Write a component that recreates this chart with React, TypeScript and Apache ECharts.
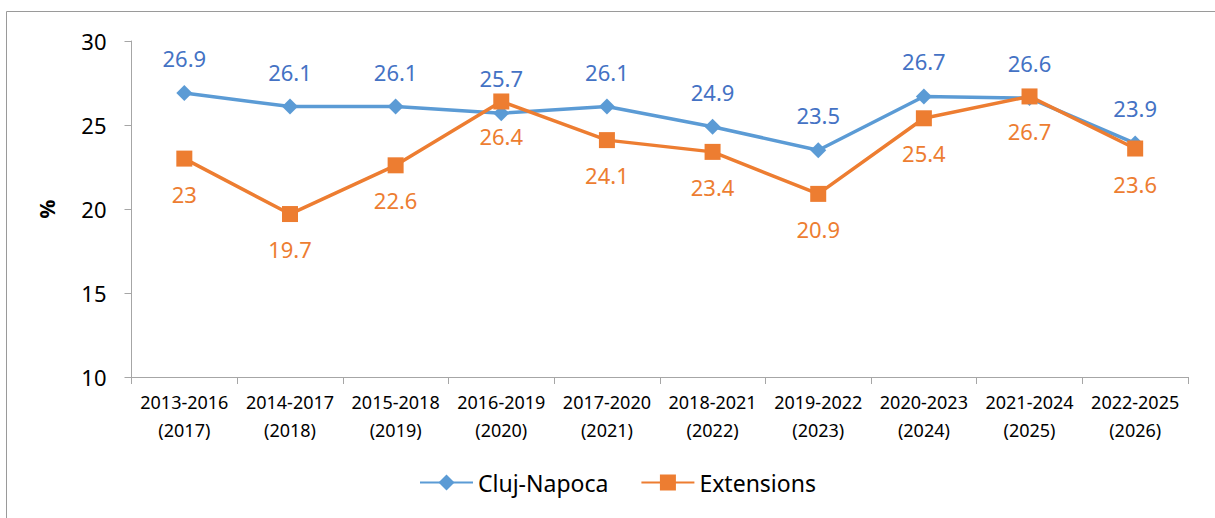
import React, { useEffect, useRef } from "react";
import * as echarts from "echarts";

const categories = [
  "2013-2016\n(2017)",
  "2014-2017\n(2018)",
  "2015-2018\n(2019)",
  "2016-2019\n(2020)",
  "2017-2020\n(2021)",
  "2018-2021\n(2022)",
  "2019-2022\n(2023)",
  "2020-2023\n(2024)",
  "2021-2024\n(2025)",
  "2022-2025\n(2026)",
];
const clujNapoca = [26.9, 26.1, 26.1, 25.7, 26.1, 24.9, 23.5, 26.7, 26.6, 23.9];
const extensions = [23, 19.7, 22.6, 26.4, 24.1, 23.4, 20.9, 25.4, 26.7, 23.6];
const yTicks = [10, 15, 20, 25, 30];

const FONT = "'Noto Sans', 'Open Sans', sans-serif";
const AXIS = "#a6a6a6";

export default function App() {
  const ref = useRef<HTMLDivElement>(null);
  useEffect(() => {
    document.body.style.margin = "0";
    if (!ref.current) return;
    const chart = echarts.init(ref.current, null, { renderer: "svg" });
    chart.setOption({
      animation: false,
      backgroundColor: "#ffffff",
      textStyle: { fontFamily: FONT },
      graphic: [
        {
          type: "rect",
          shape: { x: 6.5, y: 11.5, width: 1300, height: 600 },
          style: { fill: "none", stroke: "#9a9a9a", lineWidth: 1 },
          silent: true,
        },
      ],
      grid: { left: 131.5, right: 27, top: 41, bottom: 141, containLabel: false },
      legend: {
        bottom: 19,
        left: 414,
        itemWidth: 53,
        itemHeight: 20,
        itemGap: 32,
        textStyle: { fontFamily: FONT, fontSize: 23, color: "#000" },
        data: ["Cluj-Napoca", "Extensions"],
      },
      xAxis: {
        type: "category",
        data: categories,
        boundaryGap: true,
        axisLine: { lineStyle: { color: AXIS, width: 1 } },
        axisTick: { show: true, length: 7, lineStyle: { color: AXIS } },
        axisLabel: {
          fontFamily: FONT,
          fontSize: 18,
          lineHeight: 28,
          color: "#000",
          margin: 11,
          interval: 0,
        },
      },
      yAxis: {
        type: "value",
        min: yTicks[0],
        max: yTicks[yTicks.length - 1],
        interval: 5,
        name: "%",
        nameLocation: "middle",
        nameRotate: 90,
        nameGap: 74,
        nameTextStyle: { fontFamily: FONT, fontSize: 21, fontWeight: "bold", color: "#000" },
        axisLine: { show: true, lineStyle: { color: AXIS, width: 1 } },
        axisTick: { show: true, length: 7, lineStyle: { color: AXIS } },
        splitLine: { show: false },
        axisLabel: { fontFamily: FONT, fontSize: 22, color: "#000", margin: 25 },
      },
      series: [
        {
          name: "Cluj-Napoca",
          type: "line",
          data: clujNapoca,
          symbol: "diamond",
          symbolSize: 16,
          lineStyle: { color: "#5B9BD5", width: 3.5 },
          itemStyle: { color: "#5B9BD5" },
          label: {
            show: true,
            position: "top",
            distance: 16,
            fontFamily: FONT,
            fontSize: 22,
            color: "#4472C4",
          },
        },
        {
          name: "Extensions",
          type: "line",
          data: extensions,
          symbol: "rect",
          symbolSize: 16,
          lineStyle: { color: "#ED7D31", width: 3.5 },
          itemStyle: { color: "#ED7D31" },
          label: {
            show: true,
            position: "bottom",
            distance: 16,
            fontFamily: FONT,
            fontSize: 22,
            color: "#ED7D31",
          },
        },
      ],
    });
    return () => chart.dispose();
  }, []);
  return <div ref={ref} style={{ width: 1215, height: 518 }} />;
}
